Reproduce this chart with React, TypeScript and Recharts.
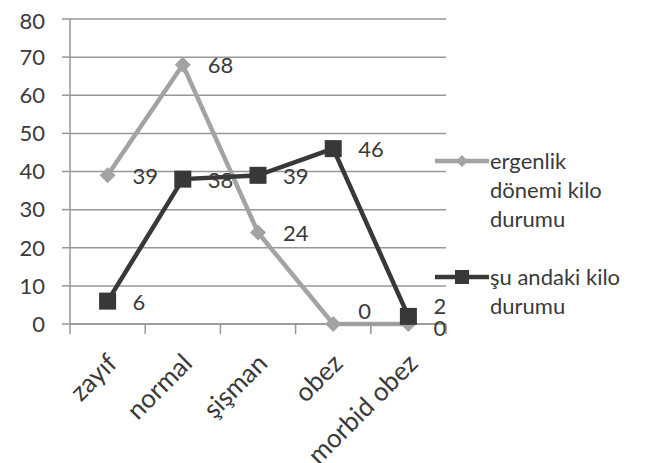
import React from "react";
import { LineChart, Line, XAxis, YAxis, CartesianGrid, Legend, LabelList } from "recharts";

const categories = ["zayıf", "normal", "şişman", "obez", "morbid obez"];
const ergenlik = [39, 68, 24, 0, 0];
const suAndaki = [6, 38, 39, 46, 2];
const yTicks = [0, 10, 20, 30, 40, 50, 60, 70, 80];
const seriesNames = ["ergenlik dönemi kilo durumu", "şu andaki kilo durumu"];
const legendLines = [["ergenlik", "dönemi kilo", "durumu"], ["şu andaki kilo", "durumu"]];

const data = categories.map((c, i) => ({ cat: c, a: ergenlik[i], b: suAndaki[i] }));

const FONT = "Lato, 'Open Sans', sans-serif";
const TEXT = "#3a3a3a";
const GRID = "#979797";
const GRAY = "#a3a3a3";
const DARK = "#383838";
const HALF_BAND = 37.6;

const Diamond = (props: any) => {
  const { cx, cy } = props;
  if (cx == null || cy == null) return null;
  const r = 8;
  return (
    <path
      d={`M${cx},${cy - r}L${cx + r},${cy}L${cx},${cy + r}L${cx - r},${cy}Z`}
      fill={GRAY}
      stroke="none"
    />
  );
};

const Square = (props: any) => {
  const { cx, cy } = props;
  if (cx == null || cy == null) return null;
  const s = 8.5;
  return <rect x={cx - s} y={cy - s} width={s * 2} height={s * 2} fill={DARK} />;
};

const makeLabel = (series: number) => (props: any) => {
  const x = props.x ?? props.viewBox?.x;
  const y = props.y ?? props.viewBox?.y;
  const { value, index } = props;
  let dy = 0;
  if (series === 0 && index === 3) dy = -14;
  if (series === 0 && index === 4) dy = 3;
  if (series === 1 && index === 4) dy = -11;
  return (
    <text
      x={x + 25}
      y={y + dy}
      dominantBaseline="central"
      fontFamily={FONT}
      fontSize={22}
      fill={TEXT}
    >
      {value}
    </text>
  );
};

const XTick = (props: any) => {
  const { x, y, payload, index } = props;
  return (
    <g>
      <line x1={x - HALF_BAND} y1={y} x2={x - HALF_BAND} y2={y + 10} stroke={GRID} strokeWidth={1.5} />
      {index === categories.length - 1 && (
        <line x1={x + HALF_BAND} y1={y} x2={x + HALF_BAND} y2={y + 10} stroke={GRID} strokeWidth={1.5} />
      )}
      <text
        x={0}
        y={0}
        transform={`translate(${x + 11},${y + 41}) rotate(-45)`}
        textAnchor="end"
        fontFamily={FONT}
        fontSize={26}
        fill={TEXT}
      >
        {payload.value}
      </text>
    </g>
  );
};

const LegendContent = () => {
  const markers = [
    <svg width={54} height={20} key="m0" style={{ position: "absolute", left: 0, top: 0 }}>
      <line x1={0} y1={10} x2={54} y2={10} stroke={GRAY} strokeWidth={4.5} />
      <path d="M27,4L33,10L27,16L21,10Z" fill={GRAY} />
    </svg>,
    <svg width={54} height={20} key="m1" style={{ position: "absolute", left: 0, top: 0 }}>
      <line x1={0} y1={10} x2={54} y2={10} stroke={DARK} strokeWidth={4.5} />
      <rect x={20} y={3} width={14} height={14} fill={DARK} />
    </svg>,
  ];
  return (
    <div style={{ fontFamily: FONT, fontSize: 22, color: TEXT, lineHeight: "29px" }}>
      {legendLines.map((lines, i) => (
        <div key={seriesNames[i]} style={{ position: "relative", paddingLeft: 55, marginBottom: i === 0 ? 29 : 0 }}>
          <div style={{ position: "absolute", left: 0, top: 4.5 }}>{markers[i]}</div>
          {lines.map((l) => (
            <div key={l} style={{ whiteSpace: "nowrap" }}>{l}</div>
          ))}
        </div>
      ))}
    </div>
  );
};

export default function App() {
  return (
    <div style={{ width: 658, height: 455, background: "#fff" }}>
      <LineChart
        width={658}
        height={455}
        data={data}
        margin={{ top: 11, right: 220, bottom: 0, left: 0 }}
      >
        <CartesianGrid vertical={false} stroke={GRID} strokeWidth={1.5} />
        <XAxis
          dataKey="cat"
          scale="band"
          height={139}
          tickLine={false}
          tickSize={0}
          tickMargin={0}
          axisLine={{ stroke: GRID, strokeWidth: 1.5 }}
          tick={<XTick />}
          interval={0}
        />
        <YAxis
          width={62}
          domain={[0, 80]}
          ticks={yTicks}
          tickSize={8}
          tickMargin={17}
          tickLine={{ stroke: GRID, strokeWidth: 1.5 }}
          axisLine={{ stroke: GRID, strokeWidth: 1.5 }}
          tick={{ fontFamily: FONT, fontSize: 22, fill: TEXT }}
        />
        <Legend
          layout="vertical"
          align="center"
          verticalAlign="middle"
          content={<LegendContent />}
          wrapperStyle={{ left: 427, top: 138, width: 220 }}
        />
        <Line
          name={seriesNames[0]}
          dataKey="a"
          stroke={GRAY}
          strokeWidth={4.5}
          dot={<Diamond />}
          activeDot={false}
          isAnimationActive={false}
        >
          <LabelList dataKey="a" content={makeLabel(0)} />
        </Line>
        <Line
          name={seriesNames[1]}
          dataKey="b"
          stroke={DARK}
          strokeWidth={4.5}
          dot={<Square />}
          activeDot={false}
          isAnimationActive={false}
        >
          <LabelList dataKey="b" content={makeLabel(1)} />
        </Line>
      </LineChart>
    </div>
  );
}
